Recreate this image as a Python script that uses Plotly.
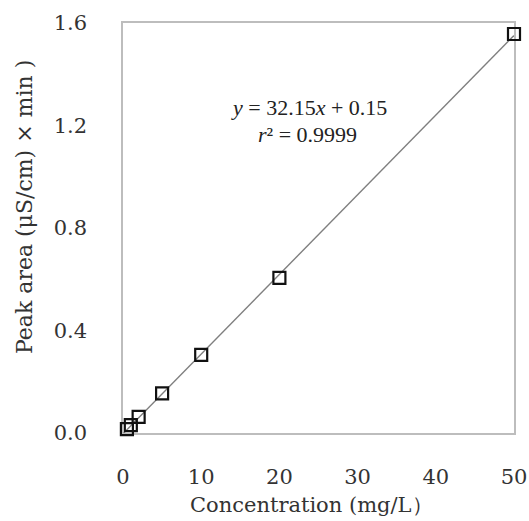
import numpy as np
import plotly.graph_objects as go

conc = [0.5, 1, 2, 5, 10, 20, 50]
peak_area = [0.015, 0.031, 0.063, 0.155, 0.305, 0.605, 1.557]
x_ticks = [0, 10, 20, 30, 40, 50]
y_ticks = [0.0, 0.4, 0.8, 1.2, 1.6]
y_tick_labels = ["0.0", "0.4", "0.8", "1.2", "1.6"]

slope, intercept = np.polyfit(conc, peak_area, 1)
fit_x = [0, max(conc)]
fit_y = [slope * v + intercept for v in fit_x]

serif = "DejaVu Serif"
times = "Liberation Serif"

fig = go.Figure()
fig.add_trace(go.Scatter(x=fit_x, y=fit_y, mode="lines",
                         line=dict(color="#7f7f7f", width=1.4),
                         hoverinfo="skip", showlegend=False))
fig.add_trace(go.Scatter(x=conc, y=peak_area, mode="markers",
                         marker=dict(symbol="square-open", size=12,
                                     color="#111111", line=dict(width=2.2, color="#111111")),
                         showlegend=False, cliponaxis=False))

fig.add_annotation(x=0.475, y=0.795, xref="paper", yref="paper",
                   text="<i>y</i> = 32.15<i>x</i> + 0.15", showarrow=False,
                   font=dict(family=times, size=22, color="#222"), xanchor="center", yanchor="middle")
fig.add_annotation(x=0.472, y=0.727, xref="paper", yref="paper",
                   text="<i>r</i>² = 0.9999", showarrow=False,
                   font=dict(family=times, size=22, color="#222"), xanchor="center", yanchor="middle")

# axis titles as annotations for precise placement
fig.add_annotation(x=(311 - 123) / 391, y=-(505 - 433) / 410, xref="paper", yref="paper",
                   text="Concentration (mg/L）", showarrow=False,
                   font=dict(family=serif, size=21, color="#333"),
                   xanchor="center", yanchor="middle")
fig.add_annotation(x=-(123 - 25) / 391, y=(433 - 207) / 410, xref="paper", yref="paper",
                   text="Peak area (μS/cm) × min )", showarrow=False, textangle=-90,
                   font=dict(family=serif, size=22, color="#333"),
                   xanchor="center", yanchor="middle")

fig.update_layout(
    width=529, height=521,
    margin=dict(l=123, r=15, t=23, b=88, autoexpand=False),
    paper_bgcolor="white", plot_bgcolor="white",
    xaxis=dict(range=[0, 50], tickvals=x_ticks, showgrid=False, zeroline=False,
               showline=True, mirror=True, linecolor="#bdbdbd", linewidth=1.5,
               ticks="", ticklabelstandoff=24, automargin=False, layer="below traces",
               tickfont=dict(family=serif, size=21, color="#333")),
    yaxis=dict(range=[0, 1.6], tickvals=y_ticks, ticktext=y_tick_labels,
               showgrid=False, zeroline=False,
               showline=True, mirror=True, linecolor="#bdbdbd", linewidth=1.5,
               ticks="", ticklabelstandoff=30, automargin=False, layer="below traces",
               tickfont=dict(family=serif, size=21, color="#333")),
)

fig.write_html("out.html", config={"displayModeBar": False},
               post_script="document.body.style.margin='0';document.body.style.overflow='hidden';")
